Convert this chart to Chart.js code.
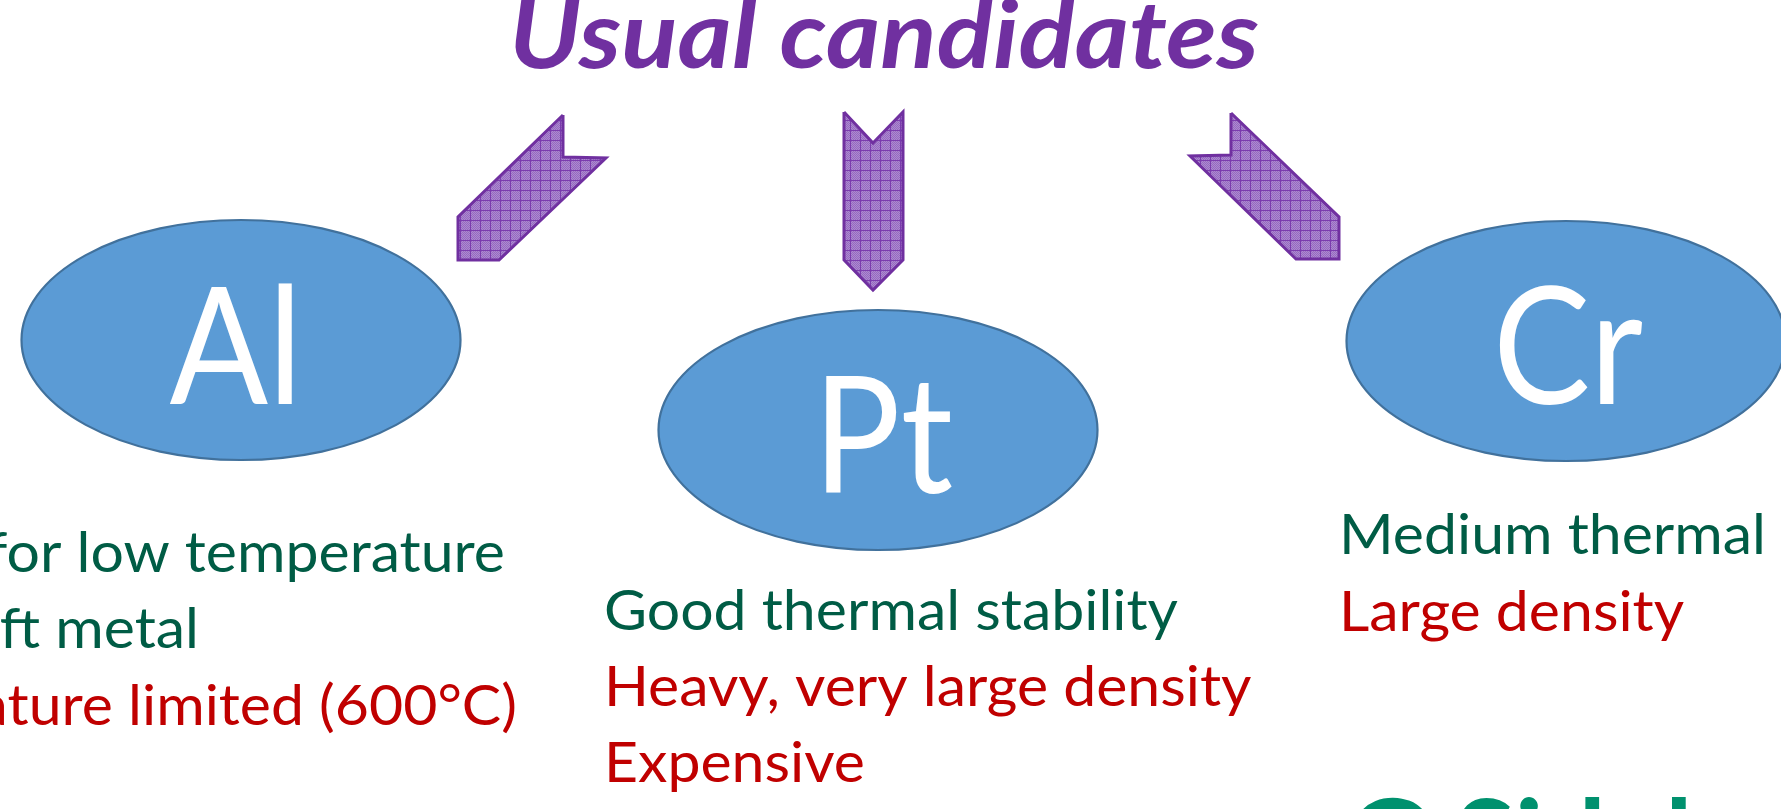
<!DOCTYPE html>
<html><head><meta charset="utf-8">
<script src="https://cdn.jsdelivr.net/npm/chart.js@4.4.1/dist/chart.umd.min.js"></script>
<style>html,body{margin:0;padding:0;background:#fff;overflow:hidden}canvas{display:block}</style>
</head><body>
<canvas id="c" width="1781" height="809"></canvas>
<script>
// ---------- data ----------
const title = 'Usual candidates';
const elements = ['Al', 'Pt', 'Cr'];
const linesAl = ['Good for low temperature', 'Soft metal', 'Temperature limited (600°C)'];
const kindsAl = ['pro', 'pro', 'con'];
const linesPt = ['Good thermal stability', 'Heavy, very large density', 'Expensive'];
const kindsPt = ['pro', 'con', 'con'];
const linesCr = ['Medium thermal stability', 'Large density'];
const kindsCr = ['pro', 'con'];
const footer = 'G Sidebands';

// ---------- layout (axis units of the slide) ----------
const layout = {
  nodes: [{x: 241, y: 340}, {x: 878, y: 430}, {x: 1566, y: 341}],
  rx: 219.5, ry: 120,
  labels: [{x: 236, y: 404}, {x: 883, y: 493}, {x: 1568, y: 404}],
  arrows: [
    [[563,115],[563,157],[606,158],[499,260],[458,260],[458,217],[563,115]],
    [[844,112],[873,143],[903,112],[903,260],[873,290],[844,260],[844,112]],
    [[1231,113],[1231,155],[1190,156],[1296,259],[1339,259],[1339,217],[1231,113]]
  ],
  title: {x: 509, y: 68, w: 750},
  colAl: {x: [505, 199, 517], y: [572, 648, 725], align: 'right'},
  colPt: {x: [604, 604, 604], y: [630, 706, 782], align: 'left'},
  colCr: {x: [1339, 1339], y: [554, 631], align: 'left'},
  footer: {x: 1347, y: 882}
};
const style = {
  purple: '#7030A0', green: '#005C45', red: '#C00000', footerGreen: '#00916E',
  ellipseFill: '#5B9BD5', ellipseStroke: '#41719C',
  bodyFont: '56px Lato', bodyRef: ['Good thermal stability', 574],
  labelFont: '163px Lato', labelRef: ['Cr', 150],
  titleFont: 'italic bold 93px Lato',
  footerFont: 'bold 114px Lato', footerRef: ['G Sid', 259]
};

function makePattern() {
  const c = document.createElement('canvas');
  c.width = 10; c.height = 10;
  const g = c.getContext('2d');
  g.fillStyle = '#ad8bcf'; g.fillRect(0, 0, 10, 10);
  g.fillStyle = '#9569c1';
  for (let i = 0; i < 10; i++) for (let j = 0; j < 10; j++) if ((i + j) % 2 === 0) g.fillRect(i, j, 1, 1);
  g.fillStyle = '#7b3cae';
  g.fillRect(0, 0, 10, 1); g.fillRect(0, 0, 1, 10);
  return c;
}

function squash(ctx, font, ref) {
  ctx.save(); ctx.font = font;
  const w = ctx.measureText(ref[0]).width;
  ctx.restore();
  return ref[1] / w;
}
function drawText(ctx, text, px, py, font, color, sx, align) {
  ctx.save();
  ctx.font = font; ctx.fillStyle = color;
  ctx.textBaseline = 'alphabetic'; ctx.textAlign = align;
  ctx.translate(px, py); ctx.scale(sx, 1);
  ctx.fillText(text, 0, 0);
  ctx.restore();
}

const diagramPlugin = {
  id: 'diagram',
  beforeDatasetDraw(chart, args) {
    const ds = chart.data.datasets[args.index];
    if (!ds.isArrow) return;
    const pts = args.meta.data;
    const ctx = chart.ctx;
    ctx.save();
    ctx.beginPath();
    pts.forEach((p, i) => i ? ctx.lineTo(p.x, p.y) : ctx.moveTo(p.x, p.y));
    ctx.closePath();
    ctx.fillStyle = ctx.createPattern(makePattern(), 'repeat');
    ctx.fill();
    ctx.restore();
  },
  afterDatasetsDraw(chart) {
    const ctx = chart.ctx, xs = chart.scales.x, ys = chart.scales.y;
    const X = v => xs.getPixelForValue(v), Y = v => ys.getPixelForValue(v);
    const nodeIdx = chart.data.datasets.findIndex(d => d.isNode);
    const meta = chart.getDatasetMeta(nodeIdx);
    const labelSx = squash(ctx, style.labelFont, style.labelRef);
    meta.data.forEach((p, i) => {
      const n = layout.nodes[i];
      const rxp = Math.abs(X(n.x + layout.rx) - X(n.x));
      const ryp = Math.abs(Y(n.y + layout.ry) - Y(n.y));
      ctx.save();
      ctx.beginPath();
      ctx.ellipse(p.x, p.y, rxp, ryp, 0, 0, Math.PI * 2);
      ctx.fillStyle = style.ellipseFill; ctx.fill();
      ctx.lineWidth = 2.2; ctx.strokeStyle = style.ellipseStroke; ctx.stroke();
      ctx.restore();
      const l = layout.labels[i];
      drawText(ctx, chart.data.labels[i], X(l.x), Y(l.y), style.labelFont, '#FFFFFF', labelSx, 'center');
    });
    ctx.save(); ctx.font = style.titleFont;
    const tsx = layout.title.w / ctx.measureText(title).width; ctx.restore();
    drawText(ctx, title, X(layout.title.x), Y(layout.title.y), style.titleFont, style.purple, tsx, 'left');
    const bsx = squash(ctx, style.bodyFont, style.bodyRef);
    const cols = [[linesAl, kindsAl, layout.colAl], [linesPt, kindsPt, layout.colPt], [linesCr, kindsCr, layout.colCr]];
    cols.forEach(([lines, kinds, pos]) => {
      lines.forEach((t, i) => {
        drawText(ctx, t, X(pos.x[i]), Y(pos.y[i]), style.bodyFont,
          kinds[i] === 'pro' ? style.green : style.red, bsx, pos.align);
      });
    });
    const fsx = squash(ctx, style.footerFont, style.footerRef);
    drawText(ctx, footer, X(layout.footer.x), Y(layout.footer.y), style.footerFont, style.footerGreen, fsx, 'left');
  }
};

function build() {
  const datasets = layout.arrows.map(a => ({
    isArrow: true,
    data: a.map(([x, y]) => ({x, y})),
    showLine: true, borderColor: style.purple, borderWidth: 3,
    pointRadius: 0, fill: false, tension: 0, order: 2
  }));
  datasets.push({
    isNode: true,
    data: layout.nodes.map(n => ({x: n.x, y: n.y})),
    pointRadius: 0, showLine: false, order: 1
  });
  new Chart(document.getElementById('c'), {
    type: 'scatter',
    data: {labels: elements, datasets},
    options: {
      responsive: false, animation: false, devicePixelRatio: 1,
      layout: {padding: 0},
      plugins: {legend: {display: false}, tooltip: {enabled: false}},
      scales: {
        x: {type: 'linear', min: 0, max: 1781, display: false},
        y: {type: 'linear', min: 0, max: 809, reverse: true, display: false}
      }
    },
    plugins: [diagramPlugin]
  });
}
const fontLoads = ['56px Lato', 'bold 114px Lato', 'italic bold 93px Lato'].map(f => document.fonts.load(f).catch(() => null));
Promise.all(fontLoads).then(build, build);
</script>
</body></html>
